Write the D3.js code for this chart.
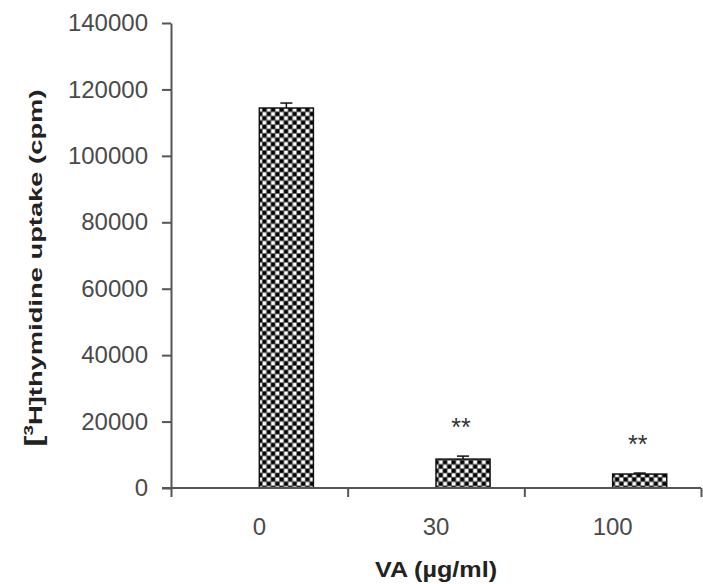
<!DOCTYPE html>
<html>
<head>
<meta charset="utf-8">
<script src="https://cdn.jsdelivr.net/npm/d3@7"></script>
<style>
  html, body { margin: 0; padding: 0; background: #fff; }
  svg { display: block; }
</style>
</head>
<body>
<div id="chart"></div>
<script>
const categories = ["0", "30", "100"];
const uptake = [114400, 8700, 4200];
const errors = [1500, 900, 300];
const marks = ["", "**", "**"];
const yTicks = [0, 20000, 40000, 60000, 80000, 100000, 120000, 140000];

const width = 703;
const height = 584;
const margin = { top: 23, right: 2, bottom: 96, left: 171 };

const svg = d3.select("#chart").append("svg")
  .attr("width", width)
  .attr("height", height)
  .style("font-family", "'Liberation Sans', Arial, sans-serif");

// checkerboard fill
const pat = svg.append("defs").append("pattern")
  .attr("id", "checker")
  .attr("patternUnits", "userSpaceOnUse")
  .attr("width", 8.6)
  .attr("height", 8.6);
pat.append("rect").attr("width", 8.6).attr("height", 8.6).attr("fill", "#5a5a5a");
[[0, 0, "#000"], [4.3, 0, "#fff"], [0, 4.3, "#fff"], [4.3, 4.3, "#000"]].forEach(([px, py, c]) => {
  pat.append("rect")
    .attr("x", px + 0.4).attr("y", py + 0.4)
    .attr("width", 3.5).attr("height", 3.5)
    .attr("fill", c);
});

const x = d3.scaleBand()
  .domain(categories)
  .range([margin.left, width - margin.right])
  .padding(0);

const xEdges = d3.scaleLinear()
  .domain([0, categories.length])
  .range([margin.left, width - margin.right]);

const y = d3.scaleLinear()
  .domain([0, 140000])
  .range([height - margin.bottom, margin.top]);

const barW = x.bandwidth() * 0.306;
const barX = d => x(d) + x.bandwidth() / 2;

// bars
svg.append("g")
  .selectAll("rect")
  .data(categories)
  .join("rect")
  .attr("x", d => barX(d))
  .attr("y", (d, i) => y(uptake[i]))
  .attr("width", barW)
  .attr("height", (d, i) => y(0) - y(uptake[i]))
  .attr("fill", "url(#checker)")
  .attr("stroke", "#111")
  .attr("stroke-width", 1.5);

// error bars (upper half)
const eb = svg.append("g").attr("stroke", "#111").attr("stroke-width", 1.5);
categories.forEach((c, i) => {
  const cx = barX(c) + barW / 2;
  eb.append("line")
    .attr("x1", cx).attr("x2", cx)
    .attr("y1", y(uptake[i])).attr("y2", y(uptake[i] + errors[i]));
  eb.append("line")
    .attr("x1", cx - 6).attr("x2", cx + 6)
    .attr("y1", y(uptake[i] + errors[i])).attr("y2", y(uptake[i] + errors[i]));
});

// significance marks
svg.append("g")
  .selectAll("text")
  .data(categories)
  .join("text")
  .attr("x", d => barX(d) + barW / 2 - 2)
  .attr("y", (d, i) => y(uptake[i] + errors[i]) - 20)
  .attr("text-anchor", "middle")
  .style("font-size", "25px")
  .style("fill", "#333")
  .text((d, i) => marks[i]);

// y axis
const yAxis = svg.append("g")
  .attr("transform", `translate(${margin.left},0)`)
  .call(d3.axisLeft(y).tickValues(yTicks).tickFormat(d3.format("d"))
    .tickSize(9).tickSizeOuter(0).tickPadding(14));
yAxis.select(".domain").attr("stroke", "#555").attr("stroke-width", 2);
yAxis.selectAll(".tick line").attr("stroke", "#555").attr("stroke-width", 2);
yAxis.selectAll("text").style("font-size", "24px").attr("fill", "#4a4a4a");

// x axis: boundary ticks
const xAxis = svg.append("g")
  .attr("transform", `translate(0,${y(0)})`)
  .call(d3.axisBottom(xEdges).tickValues(d3.range(categories.length + 1)).tickFormat("").tickSize(9).tickSizeOuter(0));
xAxis.select(".domain").attr("stroke", "#555").attr("stroke-width", 2)
  .attr("d", `M${margin.left - 9},0H${width - margin.right}`);
xAxis.selectAll(".tick line").attr("stroke", "#555").attr("stroke-width", 2);

// x axis: category labels
const xLabels = svg.append("g")
  .attr("transform", `translate(0,${y(0)})`)
  .call(d3.axisBottom(x).tickSize(0).tickPadding(30));
xLabels.select(".domain").remove();
xLabels.selectAll("text").style("font-size", "24px").attr("fill", "#4a4a4a");

// axis titles
svg.append("text")
  .attr("x", 436)
  .attr("y", 577)
  .attr("text-anchor", "middle")
  .attr("textLength", 122)
  .attr("lengthAdjust", "spacingAndGlyphs")
  .style("font-weight", "bold")
  .style("font-size", "22px")
  .style("fill", "#222")
  .text("VA (µg/ml)");

const yTitle = svg.append("text")
  .attr("transform", "translate(42,268) rotate(-90)")
  .attr("text-anchor", "middle")
  .attr("textLength", 357)
  .attr("lengthAdjust", "spacingAndGlyphs")
  .style("font-weight", "bold")
  .style("font-size", "19px")
  .style("fill", "#222");
yTitle.append("tspan").style("font-size", "23px").text("[");
yTitle.append("tspan").attr("dy", -9).style("font-size", "13px").text("3");
yTitle.append("tspan").attr("dy", 9).text("H]thymidine uptake (cpm)");
</script>
</body>
</html>
